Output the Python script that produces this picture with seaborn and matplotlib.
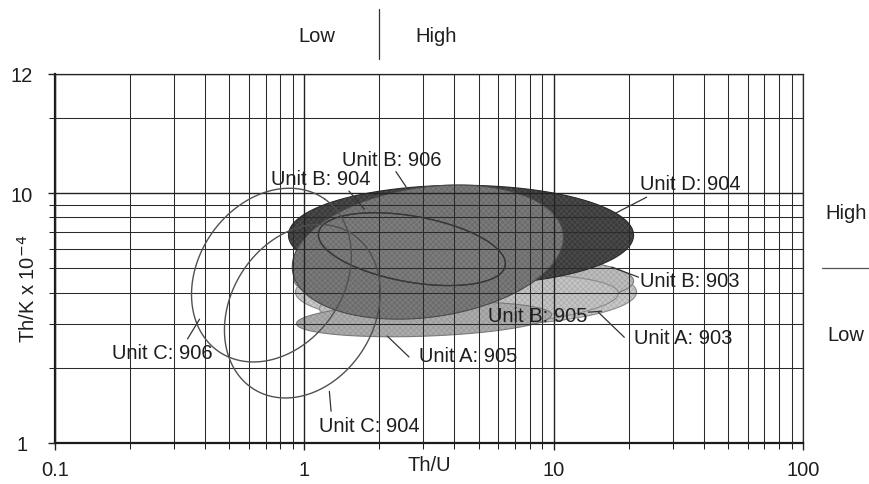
import numpy as np
import pandas as pd
import matplotlib
matplotlib.use("Agg")
import matplotlib.pyplot as plt
import seaborn as sns
from matplotlib.ticker import FixedLocator, LogLocator, NullFormatter, FixedFormatter

# ---- data: elliptical fields of each unit in Th/U vs Th/K space ----
units = ["Unit A: 903", "Unit B: 903", "Unit B: 905", "Unit D: 904", "Unit A: 905",
         "Unit B: 906", "Unit B: 904", "Unit C: 906", "Unit C: 904"]
center_thu = [4.45, 4.37, 4.57, 4.25, 3.02, 3.13, 2.70, 0.738, 0.982]
center_thk = [4.02, 4.45, 3.70, 6.79, 3.13, 5.81, 5.97, 4.70, 3.37]
half_major_dec = [0.684, 0.68, 0.60, 0.692, 0.512, 0.548, 0.38, 0.372, 0.368]   # decades
half_minor_dec = [0.136, 0.112, 0.104, 0.20, 0.068, 0.26, 0.132, 0.292, 0.288]  # decades
tilt_deg = [0, 0, 3, 0, 2, 8, -10, 55, 58]
filled = [True, True, True, True, True, True, True, False, False]
fill_colors = ["#c9c9c9", "#bdbdbd", "#c4c4c4", "#3b3b3b", "#acacac",
               "#6c6c6c", "#6f6f6f", "none", "none"]
dot_colors = ["#8f8f8f", "#858585", "#8c8c8c", "#6a6a6a", "#7c7c7c",
              "#9a9a9a", "#9c9c9c", "none", "none"]
edge_colors = ["#8a8a8a", "#7a7a7a", "#8a8a8a", "#2a2a2a", "#7a7a7a",
               "#4a4a4a", "#333333", "#505050", "#505050"]

# label anchor (Th/U, Th/K) and leader line start/end
label_thu = [33.1, 35.0, 8.63, 35.3, 4.53, 2.25, 1.16, 0.270, 1.82]
label_thk = [2.65, 4.49, 3.25, 10.9, 2.25, 13.7, 11.4, 2.31, 1.17]
leader_thu0 = [19.2, 21.9, 13.8, 23.6, 2.63, 2.33, 1.51, 0.340, 1.28]
leader_thk0 = [2.65, 4.61, 3.34, 9.64, 2.21, 12.2, 10.2, 2.61, 1.34]
leader_thu1 = [15.1, 17.1, 15.6, 17.4, 2.15, 2.56, 1.74, 0.380, 1.26]
leader_thk1 = [3.34, 5.06, 3.37, 8.24, 2.68, 10.6, 8.63, 3.13, 1.61]

# axes
x_lim = [0.1, 100]
y_lim = [1, 30]
x_ticks = [0.1, 1, 10, 100]
x_tick_labels = ["0.1", "1", "10", "100"]
y_ticks = [1, 10, 30]
y_tick_labels = ["1", "10", "12"]

# Low / High thresholds
thu_threshold = 2.0
thk_threshold = 5.0


def ellipse_outline(xc, yc, a, b, tilt, n=360):
    t = np.linspace(0, 2 * np.pi, n)
    th = np.deg2rad(tilt)
    u = a * np.cos(t)
    v = b * np.sin(t)
    lx = np.log10(xc) + u * np.cos(th) - v * np.sin(th)
    ly = np.log10(yc) + u * np.sin(th) + v * np.cos(th)
    return 10 ** lx, 10 ** ly


rows = []
for i, name in enumerate(units):
    ex, ey = ellipse_outline(center_thu[i], center_thk[i], half_major_dec[i],
                             half_minor_dec[i], tilt_deg[i])
    rows.append(pd.DataFrame({"unit": name, "order": np.arange(len(ex)),
                              "thu": ex, "thk": ey}))
outlines = pd.concat(rows, ignore_index=True)

sns.set_theme(style="ticks")
plt.rcParams["font.family"] = ["Liberation Sans", "DejaVu Sans"]
plt.rcParams["hatch.linewidth"] = 0.5

fig = plt.figure(figsize=(8.69, 4.85), dpi=100)
ax = fig.add_axes([55 / 869, 41 / 485, 748 / 869, 369 / 485])
ax.set_xscale("log")
ax.set_yscale("log")
ax.set_xlim(*x_lim)
ax.set_ylim(*y_lim)

fs = 14.5
txt_color = "#1e1e1e"

# filled fields with a fine screen texture
for i, name in enumerate(units):
    sub = outlines[outlines.unit == name]
    if filled[i]:
        z = 1 + i * 0.01
        ax.fill(sub.thu, sub.thk, facecolor=fill_colors[i], edgecolor="none", zorder=z)
        ax.fill(sub.thu, sub.thk, facecolor="none", edgecolor=dot_colors[i],
                hatch="xxxxxx", linewidth=0, alpha=0.45, zorder=z + 0.001)
        ax.plot(sub.thu, sub.thk, color=edge_colors[i], lw=0.8, zorder=z + 0.002)

# outline-only fields
for i, name in enumerate(units):
    if not filled[i]:
        sns.lineplot(data=outlines[outlines.unit == name], x="thu", y="thk",
                     sort=False, estimator=None, color=edge_colors[i], lw=1.0,
                     ax=ax, zorder=3)

# inner boundary of Unit B: 904 drawn over the fills
sub = outlines[outlines.unit == "Unit B: 904"]
ax.plot(sub.thu, sub.thk, color="#383838", lw=1.0, zorder=2.6)

# labels and leaders
for i, name in enumerate(units):
    ax.text(label_thu[i], label_thk[i], name, ha="center", va="center",
            fontsize=fs, color=txt_color, zorder=4)
    ax.plot([leader_thu0[i], leader_thu1[i]], [leader_thk0[i], leader_thk1[i]],
            color="#333333", lw=0.9, zorder=4)

# grid
ax.set_axisbelow(False)
ax.xaxis.set_major_locator(FixedLocator(x_ticks))
ax.xaxis.set_major_formatter(FixedFormatter(x_tick_labels))
ax.xaxis.set_minor_locator(LogLocator(base=10, subs=np.arange(2, 10)))
ax.xaxis.set_minor_formatter(NullFormatter())
ax.yaxis.set_major_locator(FixedLocator(y_ticks))
ax.yaxis.set_major_formatter(FixedFormatter(y_tick_labels))
ax.yaxis.set_minor_locator(LogLocator(base=10, subs=np.arange(2, 10)))
ax.yaxis.set_minor_formatter(NullFormatter())
ax.grid(True, which="major", color="#222222", lw=1.0)
ax.grid(True, which="minor", color="#2a2a2a", lw=0.75)

ax.tick_params(axis="both", which="both", direction="out", color="#222222",
               labelsize=fs, labelcolor=txt_color)
ax.tick_params(axis="both", which="major", length=5, width=1.0)
ax.tick_params(axis="both", which="minor", length=4, width=0.75)
ax.tick_params(axis="x", which="major", pad=7)
ax.tick_params(axis="y", which="major", pad=19)
for lab in ax.get_yticklabels():
    lab.set_horizontalalignment("center")

for side in ["left", "bottom"]:
    ax.spines[side].set_linewidth(1.6)
    ax.spines[side].set_color("#1a1a1a")
for side in ["top", "right"]:
    ax.spines[side].set_linewidth(0.9)
    ax.spines[side].set_color("#2a2a2a")

ax.set_xlabel("Th/U", fontsize=fs, color=txt_color)
ax.xaxis.set_label_coords(0.5, -0.033)
ax.set_ylabel("Th/K x 10$^{-4}$", fontsize=fs, color=txt_color)
ax.yaxis.set_label_coords(-0.021, 0.42)

# Low / High annotations outside the frame
xt = ax.get_xaxis_transform()
ax.text(1.117, 1.103, "Low", transform=xt, ha="center", va="center",
        fontsize=fs, color=txt_color, clip_on=False)
ax.text(3.37, 1.103, "High", transform=xt, ha="center", va="center",
        fontsize=fs, color=txt_color, clip_on=False)
ax.plot([thu_threshold, thu_threshold], [1.041, 1.176], transform=xt,
        color="#333333", lw=0.9, clip_on=False)

yt = ax.get_yaxis_transform()
ax.text(1.0575, 8.39, "High", transform=yt, ha="center", va="center",
        fontsize=fs, color=txt_color, clip_on=False)
ax.text(1.0575, 2.73, "Low", transform=yt, ha="center", va="center",
        fontsize=fs, color=txt_color, clip_on=False)
ax.plot([1.025, 1.09], [thk_threshold, thk_threshold], transform=yt,
        color="#555555", lw=0.9, clip_on=False)

fig.savefig("out.png", dpi=100)
